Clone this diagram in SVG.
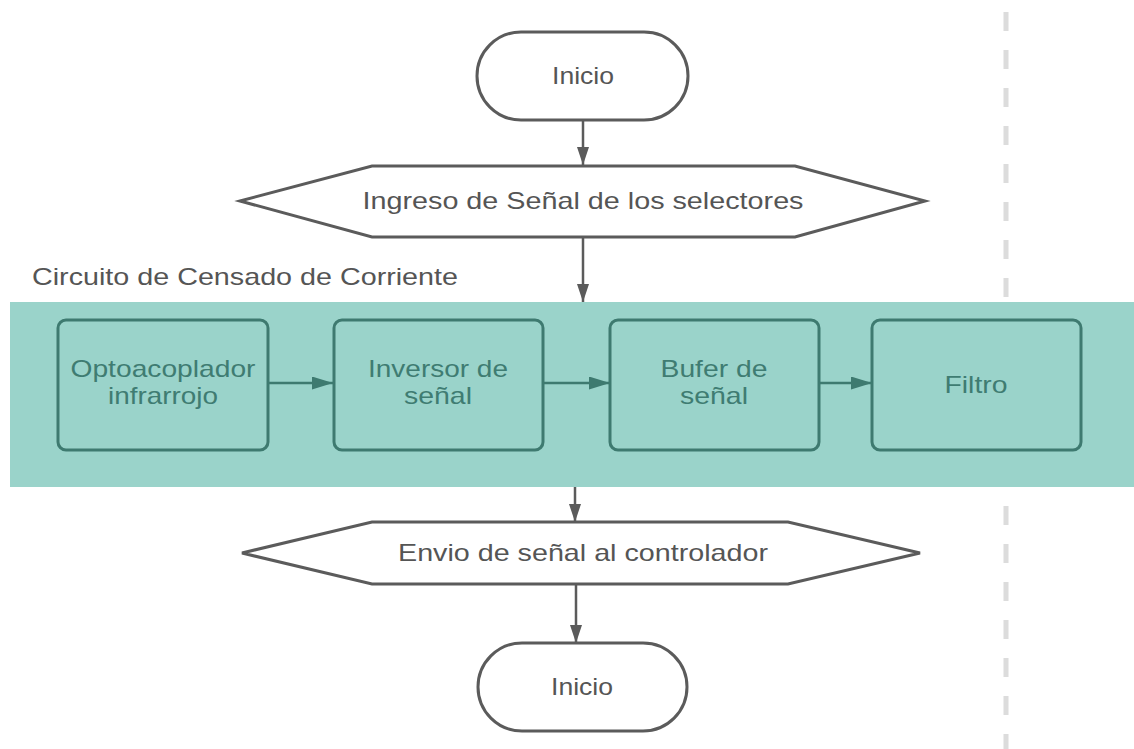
<svg xmlns="http://www.w3.org/2000/svg" width="1134" height="749" viewBox="0 0 1134 749">
  <defs>
    <style>
      .flow { fill: #ffffff; stroke: #5b5b5b; stroke-width: 3; }
      .box { fill: #9ad3ca; stroke: #3e7a70; stroke-width: 3; }
      .t { font-family: "Liberation Sans", Arial, sans-serif; font-size: 24px; fill: #555555; }
      .bt { font-family: "Liberation Sans", Arial, sans-serif; font-size: 24px; fill: #3f7c72; }
      .conn { stroke: #5b5b5b; stroke-width: 2.5; fill: none; }
      .connb { stroke: #3e7a70; stroke-width: 2.5; fill: none; }
    </style>
    <marker id="ahb" viewBox="0 0 12 12" refX="12" refY="6" markerWidth="21" markerHeight="13" markerUnits="userSpaceOnUse" orient="auto" preserveAspectRatio="none">
      <path d="M0,0 L12,6 L0,12 z" fill="#3e7a70"/>
    </marker>
    <marker id="ahv" viewBox="0 0 12 12" refX="12" refY="6" markerWidth="18" markerHeight="12" markerUnits="userSpaceOnUse" orient="auto" preserveAspectRatio="none">
      <path d="M0,0 L12,6 L0,12 z" fill="#5b5b5b"/>
    </marker>
  </defs>

  <rect width="1134" height="749" fill="#ffffff"/>

  <!-- swimlane divider -->
  <line x1="1006" y1="12" x2="1006" y2="749" stroke="#dcdcdc" stroke-width="5" stroke-dasharray="19 19"/>

  <!-- container band -->
  <g id="container">
    <rect x="10" y="302" width="1124" height="185" fill="#9ad3ca"/>
    <text class="t" x="32" y="285" textLength="426" lengthAdjust="spacingAndGlyphs">Circuito de Censado de Corriente</text>
  </g>

  <g id="connectors">
    <line class="conn" x1="583" y1="120" x2="583" y2="165" marker-end="url(#ahv)"/>
    <line class="conn" x1="583" y1="238" x2="583" y2="302" marker-end="url(#ahv)"/>
    <line class="conn" x1="575" y1="487" x2="575" y2="522" marker-end="url(#ahv)"/>
    <line class="conn" x1="576" y1="585" x2="576" y2="643" marker-end="url(#ahv)"/>
    <line class="connb" x1="268" y1="383" x2="333" y2="383" marker-end="url(#ahb)"/>
    <line class="connb" x1="543" y1="383" x2="610" y2="383" marker-end="url(#ahb)"/>
    <line class="connb" x1="820" y1="383" x2="872" y2="383" marker-end="url(#ahb)"/>
  </g>

  <g id="inicio-top">
    <rect class="flow" x="477" y="32" width="211" height="88" rx="44" ry="44"/>
    <text class="t" x="583" y="84" text-anchor="middle" textLength="62" lengthAdjust="spacingAndGlyphs">Inicio</text>
  </g>

  <g id="ingreso">
    <polygon class="flow" points="240,201 372,166 795,166 925,201 795,237 372,237"/>
    <text class="t" x="583" y="209" text-anchor="middle" textLength="441" lengthAdjust="spacingAndGlyphs">Ingreso de Señal de los selectores</text>
  </g>

  <g id="optoacoplador">
    <rect class="box" x="58" y="320" width="210" height="130" rx="8" ry="8"/>
    <text class="bt" x="163" y="377" text-anchor="middle" textLength="185" lengthAdjust="spacingAndGlyphs">Optoacoplador</text>
    <text class="bt" x="163" y="404" text-anchor="middle" textLength="110" lengthAdjust="spacingAndGlyphs">infrarrojo</text>
  </g>

  <g id="inversor">
    <rect class="box" x="334" y="320" width="209" height="130" rx="8" ry="8"/>
    <text class="bt" x="438" y="377" text-anchor="middle" textLength="140" lengthAdjust="spacingAndGlyphs">Inversor de</text>
    <text class="bt" x="438" y="404" text-anchor="middle" textLength="68" lengthAdjust="spacingAndGlyphs">señal</text>
  </g>

  <g id="bufer">
    <rect class="box" x="610" y="320" width="209" height="130" rx="8" ry="8"/>
    <text class="bt" x="714" y="377" text-anchor="middle" textLength="107" lengthAdjust="spacingAndGlyphs">Bufer de</text>
    <text class="bt" x="714" y="404" text-anchor="middle" textLength="68" lengthAdjust="spacingAndGlyphs">señal</text>
  </g>

  <g id="filtro">
    <rect class="box" x="872" y="320" width="209" height="130" rx="8" ry="8"/>
    <text class="bt" x="976" y="393" text-anchor="middle" textLength="63" lengthAdjust="spacingAndGlyphs">Filtro</text>
  </g>

  <g id="envio">
    <polygon class="flow" points="242,553 372,522 788,522 920,553 788,584 372,584"/>
    <text class="t" x="583" y="561" text-anchor="middle" textLength="370" lengthAdjust="spacingAndGlyphs">Envio de señal al controlador</text>
  </g>

  <g id="inicio-bottom">
    <rect class="flow" x="478" y="643" width="209" height="88" rx="44" ry="44"/>
    <text class="t" x="582" y="695" text-anchor="middle" textLength="62" lengthAdjust="spacingAndGlyphs">Inicio</text>
  </g>
</svg>
